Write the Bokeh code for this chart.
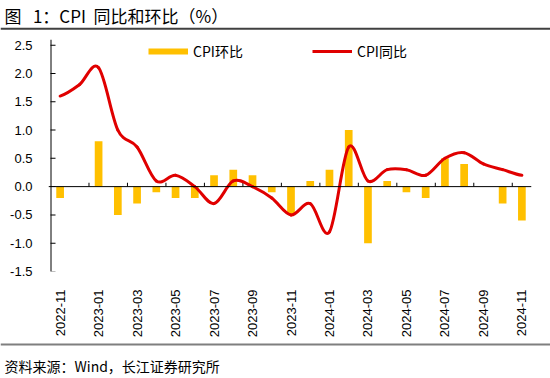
import math
from bokeh.plotting import figure
from bokeh.layouts import column
from bokeh.models import (Range1d, FixedTicker, NumeralTickFormatter, Span, Legend, LegendItem)
from bokeh.core.properties import value
from bokeh.embed import file_html
from bokeh.resources import INLINE

months = ["2022-11", "2022-12", "2023-01", "2023-02", "2023-03", "2023-04", "2023-05",
          "2023-06", "2023-07", "2023-08", "2023-09", "2023-10", "2023-11", "2023-12",
          "2024-01", "2024-02", "2024-03", "2024-04", "2024-05", "2024-06", "2024-07",
          "2024-08", "2024-09", "2024-10", "2024-11"]
cpi_mom = [-0.2, 0.0, 0.8, -0.5, -0.3, -0.1, -0.2, -0.2, 0.2, 0.3, 0.2, -0.1, -0.5,
           0.1, 0.3, 1.0, -1.0, 0.1, -0.1, -0.2, 0.5, 0.4, 0.0, -0.3, -0.6]
cpi_yoy = [1.6, 1.8, 2.1, 1.0, 0.7, 0.1, 0.2, 0.0, -0.3, 0.1, 0.0, -0.2, -0.5,
           -0.3, -0.8, 0.7, 0.1, 0.3, 0.3, 0.2, 0.5, 0.6, 0.4, 0.3, 0.2]
y_ticks = [-1.5, -1.0, -0.5, 0.0, 0.5, 1.0, 1.5, 2.0, 2.5]
title_text = "图\u00a0\u00a0\u00a01：CPI\u00a0\u00a0同比和环比（%）"
source_text = "资料来源：Wind，长江证券研究所"

BAR = "#FFC000"
RED = "#E00000"
TICK_FONT = "Liberation Sans"
CJK = "Noto Sans CJK SC"
W = 550

n = len(months)
idx = list(range(n))

# pixel geometry of the main frame
FRAME_W = 483
FRAME_H = 234
PX = 481 / n                     # pixels per category
X0 = -0.5 - 2 / PX               # frame starts 2px left of the axis line
Y_TOP = 2.6
PY = FRAME_H / (Y_TOP - y_ticks[0])


def no_align(f):
    try:
        f.frame_align = False
    except Exception:
        pass


def deco_fig(h):
    f = figure(width=W, height=h, output_backend="svg", toolbar_location=None,
               x_range=Range1d(0, W), y_range=Range1d(h, 0),
               x_axis_location=None, y_axis_location=None,
               min_border=0, min_border_left=0, min_border_right=0,
               min_border_top=0, min_border_bottom=0)
    f.outline_line_color = None
    f.xgrid.visible = False
    f.ygrid.visible = False
    no_align(f)
    return f


# ---- top: title + rule
top = deco_fig(30)
top.text(x=[4], y=[15], text=[title_text], text_font=value(CJK), text_font_size="17px",
         text_baseline="middle", text_align="left", text_color="#000000")
top.add_layout(Span(location=28.3, dimension="width", line_color="#404040", line_width=2))

# ---- main chart
p = figure(width=W, height=310, output_backend="svg", toolbar_location=None,
           x_range=Range1d(X0, X0 + FRAME_W / PX), y_range=Range1d(y_ticks[0], Y_TOP),
           min_border_left=48, min_border_right=W - 48 - FRAME_W,
           min_border_top=9, min_border_bottom=310 - 9 - FRAME_H)
p.outline_line_color = None
p.xgrid.visible = False
p.ygrid.visible = False
p.background_fill_color = None
no_align(p)

p.vbar(x=idx, top=cpi_mom, width=0.4, fill_color=BAR, line_color=None)

# zero line and y axis line
p.add_layout(Span(location=0, dimension="width", line_color="#000000", line_width=1))
p.add_layout(Span(location=-0.5 + 0.5 / PX, dimension="height", line_color="#000000", line_width=1))

# inward y ticks
p.hbar(y=y_ticks, height=1 / PY, left=-0.5, right=-0.5 + 5 / PX,
       fill_color="#000000", line_color=None)

# tick marks on zero line, between categories every 2 months
tick_x = [i - 0.5 for i in range(2, n, 2)]
p.vbar(x=tick_x, width=1 / PX, bottom=0, top=4 / PY, fill_color="#000000", line_color=None)

# smoothed line (Catmull-Rom Bezier through the data points)
ext = [cpi_yoy[0]] + cpi_yoy + [cpi_yoy[-1]]
x0 = idx[:-1]
x1 = idx[1:]
cx0 = [i + 1 / 3 for i in x0]
cx1 = [i + 2 / 3 for i in x0]
cy0 = [ext[i + 1] + (ext[i + 2] - ext[i]) / 6 for i in range(n - 1)]
cy1 = [ext[i + 2] - (ext[i + 3] - ext[i + 1]) / 6 for i in range(n - 1)]
p.bezier(x0=x0, y0=cpi_yoy[:-1], x1=x1, y1=cpi_yoy[1:], cx0=cx0, cy0=cy0, cx1=cx1, cy1=cy1,
         line_color=RED, line_width=3, line_cap="round")

xa = p.xaxis[0]
xa.ticker = FixedTicker(ticks=list(range(0, n, 2)))
xa.major_label_overrides = {i: months[i] for i in range(0, n, 2)}
xa.major_label_orientation = math.pi / 2
xa.axis_line_color = None
xa.major_tick_line_color = None
xa.minor_tick_line_color = None
xa.major_label_standoff = 12
xa.major_label_text_font = TICK_FONT
xa.major_label_text_font_size = "13px"
xa.major_label_text_color = "#000000"

ya = p.yaxis[0]
ya.ticker = FixedTicker(ticks=y_ticks)
ya.formatter = NumeralTickFormatter(format="0.0")
ya.axis_line_color = None
ya.major_tick_line_color = None
ya.minor_tick_line_color = None
ya.major_tick_in = 0
ya.major_tick_out = 0
ya.major_label_standoff = 16
ya.major_label_text_font = TICK_FONT
ya.major_label_text_font_size = "13px"
ya.major_label_text_color = "#000000"

# legend proxies (hidden renderers, drawn only as legend keys)
proxy_bar = p.line(x=idx, y=cpi_mom, line_color=BAR, line_width=6, line_cap="butt", visible=False)
proxy_line = p.line(x=idx, y=cpi_yoy, line_color=RED, line_width=3, visible=False)

for rend, lab, loc in [(proxy_bar, "CPI环比", (100, 210.5)), (proxy_line, "CPI同比", (264, 210.5))]:
    lg = Legend(items=[LegendItem(label=lab, renderers=[rend])], location=loc,
                orientation="horizontal", padding=0, margin=0, spacing=0,
                glyph_width=40, glyph_height=16, label_height=16, label_standoff=5,
                border_line_color=None, background_fill_alpha=0,
                label_text_font=CJK, label_text_font_size="14px", label_text_color="#000000")
    p.add_layout(lg, "center")

# ---- bottom: rule + source
bottom = deco_fig(38)
bottom.add_layout(Span(location=4, dimension="width", line_color="#7F7F7F", line_width=2))
bottom.text(x=[4], y=[25], text=[source_text], text_font=value(CJK), text_font_size="14px",
            text_baseline="middle", text_align="left", text_color="#000000")

layout = column(top, p, bottom, spacing=0)
open("out.html", "w").write(file_html(layout, INLINE))
